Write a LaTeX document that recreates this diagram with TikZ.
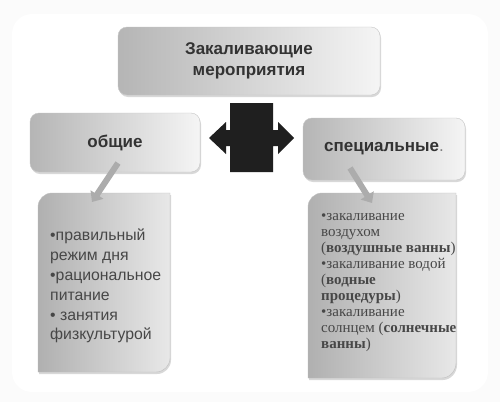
\documentclass[tikz,border=0pt]{standalone}
\usepackage{fontspec}
\setmainfont{Liberation Sans}
\newfontfamily\timesru{Liberation Serif}
\usetikzlibrary{arrows.meta,shadows}
\begin{document}
\begin{tikzpicture}[x=1pt,y=-1pt,
	box/.style={rounded corners=9pt,draw=gray!45,left color=gray!58,right color=gray!8,
		drop shadow={opacity=.3,shadow xshift=1pt,shadow yshift=-2pt},
		font=\bfseries\fontsize{17}{21}\selectfont,text=black!80,align=center,inner sep=0pt},
	note/.style={left color=gray!62,right color=gray!18,draw=gray!50,
		drop shadow={opacity=.3,shadow xshift=1pt,shadow yshift=-2pt}},
	pointer/.style={draw=gray!65,line width=6pt,-{Triangle[width=15pt,length=9pt]}}]
	\useasboundingbox(0,0)rectangle(500,402);
	\fill[gray!3](0,0)rectangle(500,402);
	\fill[white,rounded corners=20pt](12,14)rectangle(488,392);
	\node[box,minimum width=262pt,minimum height=68pt](top)at(249,61){Закаливающие\\мероприятия};
	\node[box,minimum width=170pt,minimum height=59pt](gen)at(115,142.5){общие};
	\node[box,minimum width=162pt,minimum height=62pt](spec)at(384,149){специальные{\mdseries\color{gray}.}};
	\fill[black!88](230,103)--(273,103)--(273,130)--(278,130)--(278,122)--(294,138)--(278,154)--(278,146)--(273,146)
		--(273,172)--(230,172)--(230,146)--(226,146)--(226,154)--(209,138)--(226,122)--(226,130)--(230,130)--cycle;
	\path[note](38,207)..controls(38,199.3)and(44.3,193)..(52,193)--(170,193)--(170,358)
		..controls(170,365.7)and(163.7,372)..(156,372)--(38,372)--cycle;
	\path[note](308,207)..controls(308,199.3)and(314.3,193)..(322,193)--(456,193)--(456,363)
		..controls(456,370.7)and(449.7,378)..(442,378)--(308,378)--cycle;
	\node[anchor=north west,align=left,inner sep=0pt,text=black!72,font=\fontsize{15.8}{19.8}\selectfont](genList)at(50,229)
		{•правильный\\режим дня\\•рациональное\\питание\\• занятия\\физкультурой};
	\node[anchor=north west,align=left,inner sep=0pt,text=black!72,font=\timesru\fontsize{15}{16}\selectfont](specList)at(321,213)
		{•закаливание\\воздухом\\(\textbf{воздушные ванны})\\•закаливание водой\\(\textbf{водные}\\
		\textbf{процедуры})\\•закаливание\\солнцем (\textbf{солнечные}\\\textbf{ванны})};
	\coordinate(genFrom)at(118,163);
	\coordinate(genTo)at(92,202);
	\coordinate(specFrom)at(350,168);
	\coordinate(specTo)at(372,203);
	\draw[pointer](genFrom)--(genTo);
	\draw[pointer](specFrom)--(specTo);
\end{tikzpicture}
\end{document}
